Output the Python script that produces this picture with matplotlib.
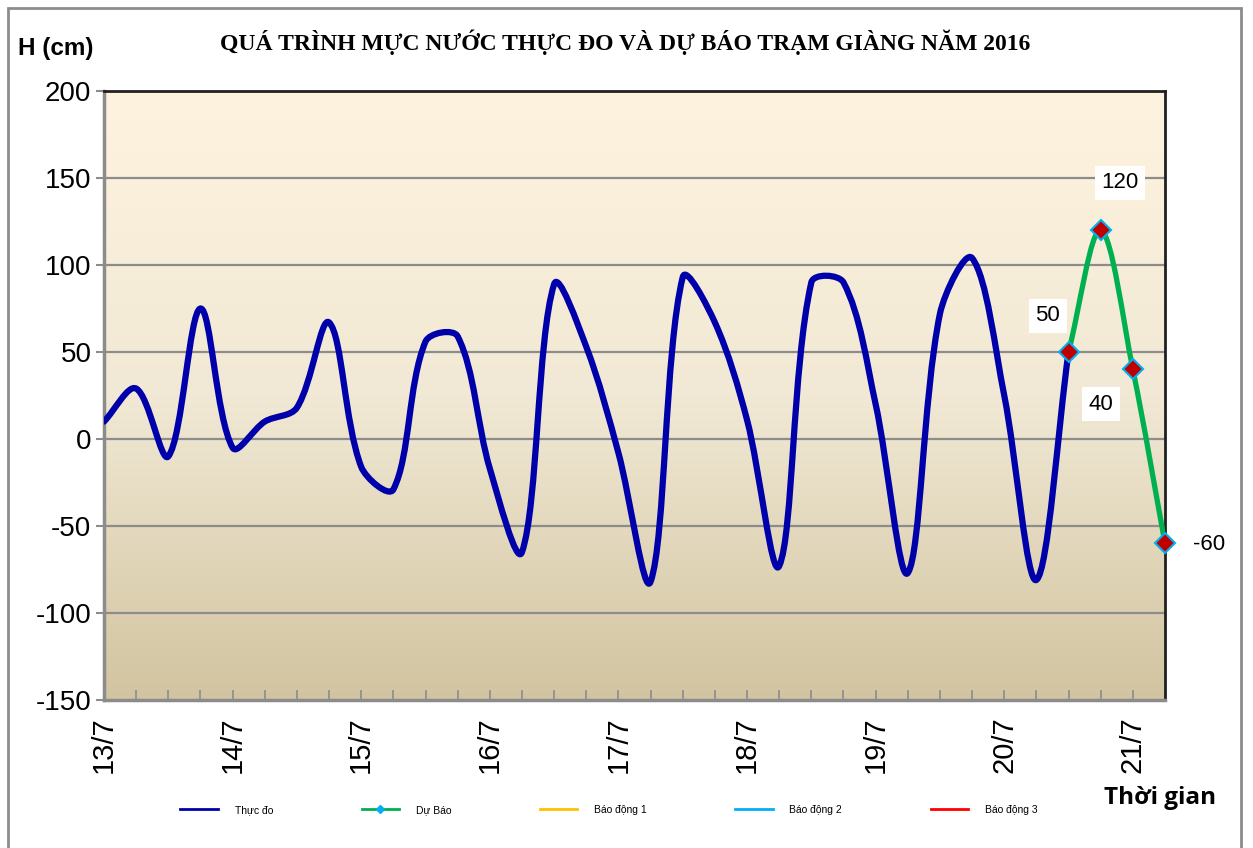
import numpy as np
import matplotlib
matplotlib.use("Agg")
from matplotlib import pyplot as plt
from matplotlib.path import Path
from matplotlib.patches import PathPatch, Rectangle
from matplotlib.colors import LinearSegmentedColormap
from matplotlib.lines import Line2D

plt.rcParams["axes.unicode_minus"] = False

# water level, every 6 hours from 13/7 00h
observed = [10, 29, -10, 75, -5, 10, 18, 67, -16, -29,
            56, 59, -17, -65, 89, 53, -8, -82, 93, 67,
            11, -73, 90, 90, 20, -77, 72, 104, 25, -81, 50]
forecast = [50, 120, 40, -60]
day_labels = ["13/7", "14/7", "15/7", "16/7", "17/7", "18/7", "19/7", "20/7", "21/7"]
step_h = 6

x_obs = np.arange(len(observed)) * step_h
x_fc = (np.arange(len(forecast)) + len(observed) - 1) * step_h
x_end = x_fc[-1]


def smooth_path(ax, x, y, t=1 / 3):
    # excel style smoothed line, bezier control points worked out in pixel space
    pts = ax.transData.transform(np.column_stack([x, y]).astype(float))
    ext = np.vstack([pts[0], pts, pts[-1]])
    verts = [pts[0]]
    codes = [Path.MOVETO]
    for i in range(len(pts) - 1):
        p0, p1, p2, p3 = ext[i], ext[i + 1], ext[i + 2], ext[i + 3]
        d01 = np.hypot(*(p1 - p0))
        d12 = np.hypot(*(p2 - p1))
        d23 = np.hypot(*(p3 - p2))
        f1 = t * d12 / (d01 + d12)
        f2 = t * d12 / (d12 + d23)
        verts += [p1 + (p2 - p0) * f1, p2 - (p3 - p1) * f2, p2]
        codes += [Path.CURVE4] * 3
    verts = ax.transData.inverted().transform(np.array(verts))
    return Path(verts, codes)


fig = plt.figure(figsize=(12.53, 8.48), dpi=100)
ax = fig.add_axes([104 / 1253, 1 - 700 / 848, 1061 / 1253, 609 / 848])
ax.set_xlim(0, x_end)
ax.set_ylim(-150, 200)

# background gradient
cmap = LinearSegmentedColormap.from_list("bg", [(0, "#D2C4A0"), (0.5, "#F1E9D5"), (1, "#FEF3DE")])
grad = np.linspace(0, 1, 256).reshape(-1, 1)
ax.imshow(grad, extent=[0, x_end, -150, 200], origin="lower", aspect="auto", cmap=cmap, zorder=0)

for yv in range(-100, 200, 50):
    ax.axhline(yv, color="#8C8C8C", lw=1.6, zorder=1)

ax.add_patch(PathPatch(smooth_path(ax, x_obs, observed), fill=False, edgecolor="#0000AA",
                       lw=4.5, capstyle="round", joinstyle="round", zorder=3))
ax.add_patch(PathPatch(smooth_path(ax, x_fc, forecast), fill=False, edgecolor="#00B050",
                       lw=3.8, capstyle="round", joinstyle="round", zorder=3))
ax.plot(x_fc, forecast, ls="none", marker="D", ms=10, mfc="#C00000", mec="#00B0F0",
        mew=1.5, zorder=4, clip_on=False)

offsets = [(-15, 26), (14, 34), (-23, -25), (32, -1)]
for xv, yv, off in zip(x_fc, forecast, offsets):
    ax.annotate(str(yv), (xv, yv), xytext=off, textcoords="offset points",
                ha="center", va="center", fontsize=16, family="Liberation Sans",
                bbox=dict(boxstyle="square,pad=0.3", fc="white", ec="none"), zorder=5)

# axes styling
ax.set_yticks(range(-150, 201, 50))
ax.set_xticks(np.arange(0, x_end + 1, 24))
ax.set_xticklabels(day_labels, rotation=90)
ax.set_xticks(np.arange(0, x_end + 1, step_h), minor=True)
ax.tick_params(axis="y", direction="out", length=6, width=1.5, color="#8C8C8C",
               labelsize=20, pad=3)
ax.tick_params(axis="x", which="both", direction="in", length=7, width=1.2,
               color="#8C8C8C", labelsize=21, pad=12)
for lab in ax.get_xticklabels() + ax.get_yticklabels():
    lab.set_family("Liberation Sans")
ax.spines["left"].set_color("#8C8C8C")
ax.spines["left"].set_linewidth(2.5)
ax.spines["bottom"].set_color("#8C8C8C")
ax.spines["bottom"].set_linewidth(2.5)
ax.spines["top"].set_color("#202020")
ax.spines["top"].set_linewidth(2)
ax.spines["right"].set_color("#202020")
ax.spines["right"].set_linewidth(2)

# texts
fig.text(0.499, 1 - 42 / 848, "QUÁ TRÌNH MỰC NƯỚC THỰC ĐO VÀ DỰ BÁO TRẠM GIÀNG NĂM 2016",
         ha="center", va="center", fontsize=17, fontweight="bold", family="Liberation Serif")
fig.text(18 / 1253, 1 - 48 / 848, "H (cm)", ha="left", va="center", fontsize=17.5,
         fontweight="bold", family="Liberation Sans")
fig.text(1160 / 1253, 1 - 798 / 848, "Thời gian", ha="center", va="center", fontsize=17.5,
         fontweight="bold", family="Open Sans")

# legend
handles = [
    Line2D([], [], color="#0000AA", lw=2),
    Line2D([], [], color="#00B050", lw=2, marker="D", ms=4, mfc="#00B0F0", mec="#00B0F0"),
    Line2D([], [], color="#FFC000", lw=2),
    Line2D([], [], color="#00B0F0", lw=2),
    Line2D([], [], color="#FF0000", lw=2),
]
names = ["Thực đo", "Dự Báo", "Báo động 1", "Báo động 2", "Báo động 3"]
fig.legend(handles, names, loc="center", bbox_to_anchor=(0.486, 1 - 810 / 848), ncol=5,
           frameon=False, prop={"family": "Liberation Sans", "size": 7.5},
           handlelength=3.6, columnspacing=8.5, handletextpad=1.6)

fig.add_artist(Rectangle((8 / 1253, -0.01), 1233 / 1253, 1 - 8 / 848 + 0.01,
                         transform=fig.transFigure, fill=False, ec="#8C8C8C", lw=2))

fig.savefig("out.png", dpi=100)
